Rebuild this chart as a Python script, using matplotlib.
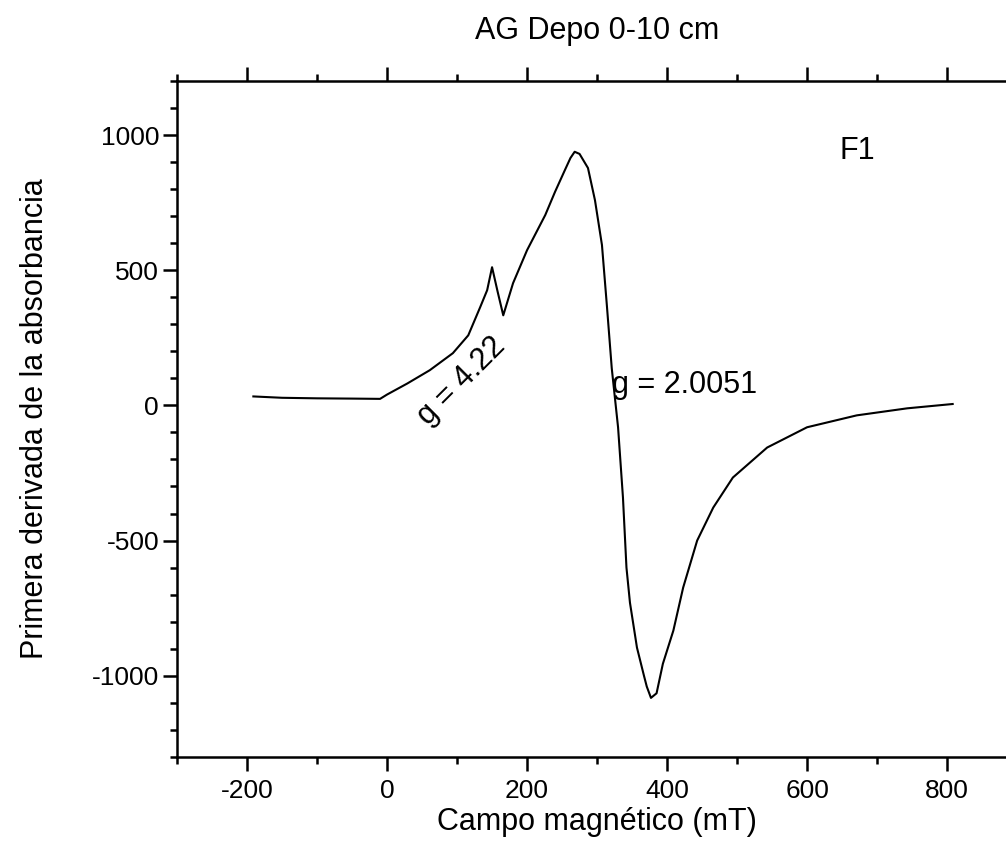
import matplotlib.pyplot as plt
from matplotlib.ticker import MultipleLocator

plt.rcParams['font.family'] = ['Liberation Sans', 'DejaVu Sans']
plt.rcParams['axes.unicode_minus'] = False

# Campo magnético (mT) vs primera derivada
campo = [-191, -150, -100, -50, -10, 0, 29, 61, 94, 116, 133, 143, 150,
         158, 166, 180, 200, 226, 240, 254, 262, 268, 275, 287, 297, 307, 314,
         321, 330, 337, 342, 347, 357, 367, 371, 377, 385, 394, 409, 423,
         443, 466, 494, 543, 600, 671, 743, 808]
derivada = [33, 28, 26, 25, 24, 40, 81, 130, 193, 259, 363, 426, 511,
            420, 333, 452, 574, 704, 790, 870, 915, 938, 930, 878, 759, 593, 370,
            137, -81, -341, -600, -730, -896, -1000, -1040, -1082, -1065, -956,
            -833, -674, -500, -378, -267, -156, -81, -37, -11, 5]

titulo = "AG Depo 0-10 cm"
etiqueta_x = "Campo magnético (mT)"
etiqueta_y = "Primera derivada de la absorbancia"


def plot_results():
    fig = plt.figure(figsize=(10.06, 8.61), dpi=100)
    ax = fig.add_axes([0.176, 0.121, 0.835, 0.785])

    ax.plot(campo, derivada, color="black", linewidth=1.5)

    ax.set_xlim(-300, 900)
    ax.set_ylim(-1300, 1200)
    ax.xaxis.set_major_locator(MultipleLocator(200))
    ax.xaxis.set_minor_locator(MultipleLocator(100))
    ax.yaxis.set_major_locator(MultipleLocator(500))
    ax.yaxis.set_minor_locator(MultipleLocator(100))

    for s in ax.spines.values():
        s.set_linewidth(1.8)
    ax.spines["right"].set_visible(False)

    ax.tick_params(which="both", direction="out", top=True, right=False,
                   labeltop=False, width=1.8, labelsize=19)
    ax.tick_params(which="major", length=10)
    ax.tick_params(which="minor", length=5)
    ax.tick_params(axis="y", pad=3)
    ax.tick_params(axis="x", pad=6)

    ax.set_xlabel(etiqueta_x, fontsize=22, va="center")
    ax.set_ylabel(etiqueta_y, fontsize=22, va="center")
    ax.xaxis.set_label_coords(0.5, -0.097)
    ax.yaxis.set_label_coords(-0.169, 0.5)
    ax.set_title(titulo, fontsize=22, pad=30)

    ax.text(647, 941, "F1", fontsize=22, ha="left", va="center")
    ax.text(321, 74, "g = 2.0051", fontsize=22, ha="left", va="center")
    ax.text(107, 88, "g = 4.22", fontsize=22, ha="center", va="center",
            rotation=45)

    fig.savefig("out.png", dpi=100)
    plt.close(fig)


if __name__ == "__main__":
    plot_results()
